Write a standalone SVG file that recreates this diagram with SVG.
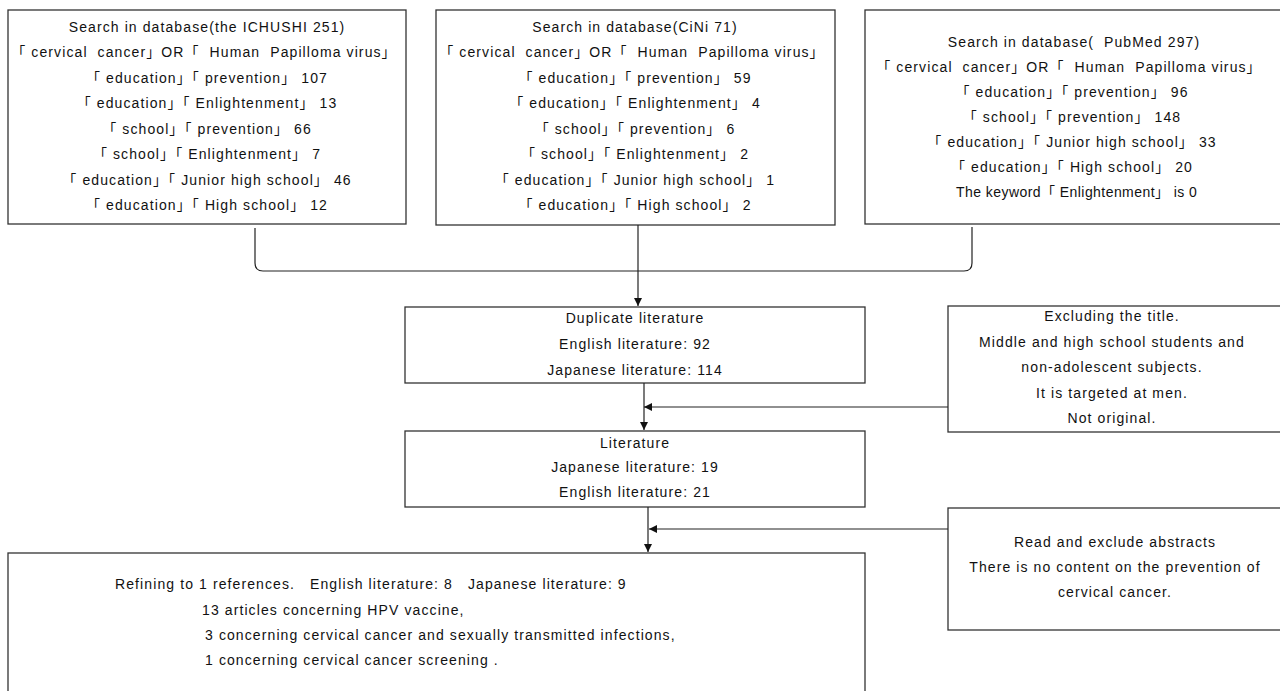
<svg xmlns="http://www.w3.org/2000/svg" width="1280" height="691" viewBox="0 0 1280 691">
<defs>
<style>
.box{fill:#fff;stroke:#333;stroke-width:1.3}
.t{font-family:"Liberation Sans","Noto Sans CJK JP",sans-serif;font-size:14px;fill:#111;text-anchor:middle;letter-spacing:1.1px}
.l{font-family:"Liberation Sans","Noto Sans CJK JP",sans-serif;font-size:14px;fill:#111;letter-spacing:1.1px}
.c{fill:none;stroke:#222;stroke-width:1.2}
</style>
<marker id="ah" viewBox="0 0 10 10" refX="10" refY="5" markerWidth="8" markerHeight="8" markerUnits="userSpaceOnUse" orient="auto">
<path d="M0,0 L10,5 L0,10 Z" fill="#111"/>
</marker>
</defs>
<rect width="1280" height="691" fill="#fff"/>
<g id="ichushi">
<rect class="box" x="8" y="10" width="398" height="214"/>
<text class="t" x="207" y="32">Search in database(the ICHUSHI  251)</text>
<text class="t" x="204" y="57" xml:space="preserve">「 cervical  cancer」OR「  Human  Papilloma virus」</text>
<text class="t" x="207" y="83">「 education」「 prevention」 107</text>
<text class="t" x="207" y="108">「 education」「 Enlightenment」 13</text>
<text class="t" x="207" y="134">「 school」「 prevention」 66</text>
<text class="t" x="207" y="159">「 school」「 Enlightenment」 7</text>
<text class="t" x="207" y="185">「 education」「 Junior high school」 46</text>
<text class="t" x="207" y="210">「 education」「 High school」 12</text>
</g>
<g id="cini">
<rect class="box" x="436" y="10" width="399" height="215"/>
<text class="t" x="635" y="32">Search in database(CiNi  71)</text>
<text class="t" x="632" y="57" xml:space="preserve">「 cervical  cancer」OR「  Human  Papilloma virus」</text>
<text class="t" x="635" y="83">「 education」「 prevention」 59</text>
<text class="t" x="635" y="108">「 education」「 Enlightenment」 4</text>
<text class="t" x="635" y="134">「 school」「 prevention」 6</text>
<text class="t" x="635" y="159">「 school」「 Enlightenment」 2</text>
<text class="t" x="635" y="185">「 education」「 Junior high school」 1</text>
<text class="t" x="635" y="210">「 education」「 High school」 2</text>
</g>
<g id="pubmed">
<rect class="box" x="865" y="10" width="425" height="214"/>
<text class="t" x="1074" y="47" xml:space="preserve">Search in database(  PubMed 297)</text>
<text class="t" x="1069" y="72" xml:space="preserve">「 cervical  cancer」OR「  Human  Papilloma virus」</text>
<text class="t" x="1072" y="97">「 education」「 prevention」 96</text>
<text class="t" x="1072" y="122">「 school」「 prevention」 148</text>
<text class="t" x="1072" y="147">「 education」「 Junior high school」 33</text>
<text class="t" x="1072" y="172">「 education」「 High school」 20</text>
<text class="t" x="1077" y="197" textLength="242" lengthAdjust="spacing">The keyword「 Enlightenment」 is 0</text>
</g>
<g id="duplicate">
<rect class="box" x="405" y="307" width="460" height="76"/>
<text class="t" x="635" y="323">Duplicate literature</text>
<text class="t" x="635" y="349">English literature: 92</text>
<text class="t" x="635" y="375">Japanese literature: 114</text>
</g>
<g id="exclude1">
<rect class="box" x="948" y="306" width="342" height="126"/>
<text class="t" x="1112" y="321">Excluding the title.</text>
<text class="t" x="1112" y="347">Middle and high school students and</text>
<text class="t" x="1112" y="372">non-adolescent subjects.</text>
<text class="t" x="1112" y="398">It is targeted at men.</text>
<text class="t" x="1112" y="423">Not original.</text>
</g>
<g id="literature">
<rect class="box" x="405" y="431" width="460" height="76"/>
<text class="t" x="635" y="448">Literature</text>
<text class="t" x="635" y="472">Japanese literature: 19</text>
<text class="t" x="635" y="497">English literature: 21</text>
</g>
<g id="exclude2">
<rect class="box" x="948" y="508" width="342" height="122"/>
<text class="t" x="1115" y="547">Read and exclude abstracts</text>
<text class="t" x="1115" y="572">There is no content on the prevention of</text>
<text class="t" x="1115" y="597">cervical cancer.</text>
</g>
<g id="result">
<rect class="box" x="8" y="553" width="857" height="150"/>
<text class="l" x="115" y="589" xml:space="preserve">Refining to 1 references.   English literature: 8   Japanese literature: 9</text>
<text class="l" x="202" y="615">13 articles concerning HPV vaccine,</text>
<text class="l" x="205" y="640">3 concerning cervical cancer and sexually transmitted infections,</text>
<text class="l" x="205" y="665">1 concerning cervical cancer screening .</text>
</g>
<g id="connectors">
<path class="c" d="M255,228 L255,263 Q255,271 263,271 L964,271 Q972,271 972,263 L972,227"/>
<path class="c" d="M638,225 L638,306" marker-end="url(#ah)"/>
<path class="c" d="M644,383 L644,430" marker-end="url(#ah)"/>
<path class="c" d="M948,407 L644,407" marker-end="url(#ah)"/>
<path class="c" d="M648,507 L648,552" marker-end="url(#ah)"/>
<path class="c" d="M948,529 L649,529" marker-end="url(#ah)"/>
</g>
</svg>
